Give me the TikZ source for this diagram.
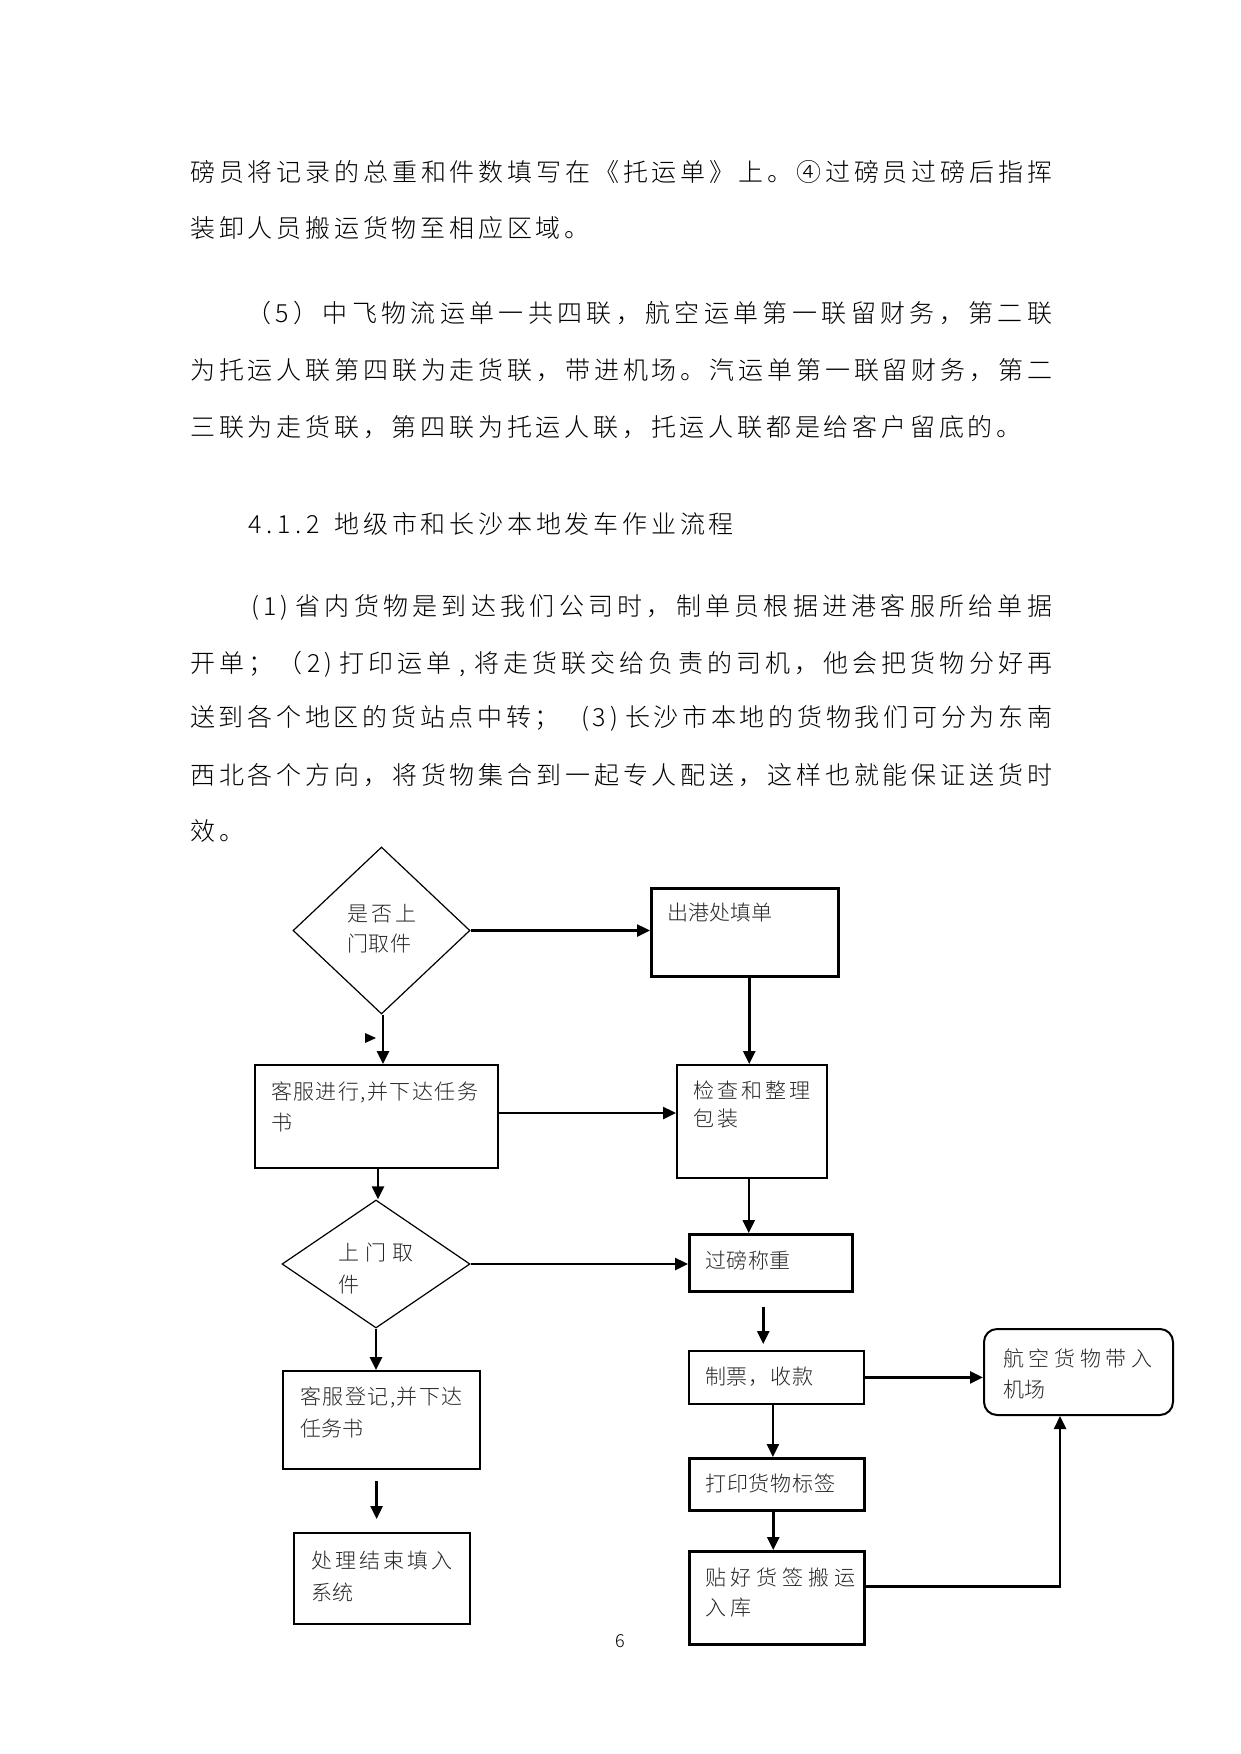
\documentclass[tikz,border=0pt]{standalone}
\usepackage{fontspec}
\IfFontExistsTF{Noto Sans CJK SC Light}{\setmainfont{Noto Sans CJK SC Light}}{\setmainfont{Noto Sans CJK SC}}
\usetikzlibrary{arrows.meta,shapes.geometric}
\newdimen\mytrkdim
\newdimen\myhcell
\myhcell=14.4pt
\def\mytrk#1#2{\mytrkdim=#1\relax\mytrkA#2\relax}
\def\mytrkA#1{\ifx\relax#1\unkern\else#1\kern\mytrkdim\relax\expandafter\mytrkA\fi}
\def\myspr#1#2{\hbox to #1{\mysprA#2\relax}}
\def\mysprA#1{\ifx\relax#1\unskip\else#1\hfil\expandafter\mysprA\fi}
\def\myhw#1{\myhwA#1\relax}
\def\myhwA#1{\ifx\relax#1\else\hbox to \myhcell{\hss#1\hss}\expandafter\myhwA\fi}
\begin{document}
\begin{tikzpicture}[x=1pt,y=-1pt,
  body/.style={font=\fontsize{25pt}{30pt}\selectfont, inner sep=0pt, anchor=west},
  ft/.style={font=\fontsize{21pt}{25pt}\selectfont, inner sep=0pt, anchor=west, text=black!85},
  flowbox/.style={draw, rectangle, inner sep=0pt, anchor=north west},
  dia/.style={draw, diamond, inner sep=0pt, line width=1.2pt},
  arr/.style={line width=2.5pt, -{Triangle[length=13pt,width=12pt]}},
]
\fill[white] (0,0) rectangle (1241,1754);
\useasboundingbox (0,0) rectangle (1241,1754);

% body text
\node[body] (l1) at (190,172) {\myspr{862pt}{磅员将记录的总重和件数填写在《托运单》上。④过磅员过磅后指挥}};
\node[body] (l2) at (190,228) {\mytrk{3.8pt}{装卸人员搬运货物至相应区域。}};
\node[body] (l3) at (246,313) {\myspr{806pt}{（5）中飞物流运单一共四联，航空运单第一联留财务，第二联}};
\node[body] (l4) at (190,370) {\myspr{862pt}{为托运人联第四联为走货联，带进机场。汽运单第一联留财务，第二}};
\node[body] (l5) at (190,427) {\mytrk{3.8pt}{三联为走货联，第四联为托运人联，托运人联都是给客户留底的。}};
\node[body] (hd) at (248,524) {\myhw{4.1.2~}\mytrk{3.8pt}{地级市和长沙本地发车作业流程}};
\node[body] (p1) at (248,607) {\myspr{804pt}{{\myhw{(1)}}省内货物是到达我们公司时，制单员根据进港客服所给单据}};
\node[body] (p2) at (190,664) {\myspr{862pt}{开单；（{\myhw{2)}}打印运单{\myhw{,}}将走货联交给负责的司机，他会把货物分好再}};
\node[body] (p3) at (190,718) {\myspr{862pt}{送到各个地区的货站点中转；{\myhw{~(3)}}长沙市本地的货物我们可分为东南}};
\node[body] (p4) at (190,775) {\myspr{862pt}{西北各个方向，将货物集合到一起专人配送，这样也就能保证送货时}};
\node[body] (p5) at (190,831) {\mytrk{3.8pt}{效。}};

% shapes
\node[dia, minimum width=177pt, minimum height=167pt] (d1) at (381.5,930.5) {};
\node[flowbox, line width=2.5pt, minimum width=187pt, minimum height=88pt] (b1) at (650,887) {};
\node[flowbox, line width=2pt, minimum width=243pt, minimum height=103pt] (kf) at (254,1064) {};
\node[flowbox, line width=1.5pt, minimum width=150pt, minimum height=113pt] (jc) at (676,1064) {};
\node[dia, minimum width=188pt, minimum height=128pt] (d2) at (376,1264) {};
\node[flowbox, line width=2.5pt, minimum width=163pt, minimum height=57pt] (gb) at (688,1233) {};
\node[flowbox, line width=1.8pt, minimum width=175pt, minimum height=53pt] (zp) at (688,1350) {};
\node[flowbox, line width=2.5pt, minimum width=175pt, minimum height=52pt] (dy) at (688,1457) {};
\node[flowbox, line width=2.5pt, minimum width=175pt, minimum height=93pt] (tb) at (688,1550) {};
\node[flowbox, line width=2pt, rounded corners=13pt, minimum width=189pt, minimum height=86pt] (hk) at (983,1328) {};
\node[flowbox, line width=2.2pt, minimum width=197pt, minimum height=98pt] (dj) at (282,1370) {};
\node[flowbox, line width=2pt, minimum width=176pt, minimum height=91pt] (cl) at (293,1532) {};

% flow texts
\node[ft] (d1a) at (347,914) {\mytrk{3pt}{是否上}};
\node[ft] (d1b) at (347,944) {\mytrk{0.5pt}{门取件}};
\node[ft] (b1a) at (667,913) {出港处填单};
\node[ft] (kfa) at (271,1093) {\mytrk{1.4pt}{客服进行,并下达任务}};
\node[ft] (kfb) at (271,1123) {书};
\node[ft] (jca) at (693,1090) {\mytrk{3pt}{检查和整理}};
\node[ft] (jcb) at (693,1118) {\mytrk{3pt}{包装}};
\node[ft] (d2a) at (338,1253) {\mytrk{6pt}{上门取}};
\node[ft] (d2b) at (338,1285) {件};
\node[ft] (gba) at (705,1260) {\mytrk{0.5pt}{过磅称重}};
\node[ft] (zpa) at (705,1377) {\mytrk{0.7pt}{制票，收款}};
\node[ft] (dya) at (705,1483) {\mytrk{0.8pt}{打印货物标签}};
\node[ft] (tba) at (705,1577) {\mytrk{4.8pt}{贴好货签搬运}};
\node[ft] (tbb) at (705,1608) {\mytrk{4.8pt}{入库}};
\node[ft] (hka) at (1003,1358) {\mytrk{4.6pt}{航空货物带入}};
\node[ft] (hkb) at (1003,1390) {机场};
\node[ft] (dja) at (300,1397) {\mytrk{1.5pt}{客服登记,并下达}};
\node[ft] (djb) at (300,1428) {任务书};
\node[ft] (cla) at (311,1560) {\mytrk{3pt}{处理结束填入}};
\node[ft] (clb) at (311,1592) {系统};
\node[font=\fontsize{18pt}{20pt}\selectfont, inner sep=0pt] (pg) at (620,1641) {6};

% free ends of the detached arrows
\coordinate (g0) at ([xshift=-7.5pt,yshift=-14pt]gb.south);
\coordinate (g1a) at (g0 |- zp.north);
\coordinate (g1) at ([yshift=6pt]g1a);
\coordinate (c0) at ([xshift=-5pt,yshift=-11pt]dj.south);
\coordinate (c1a) at (c0 |- cl.north);
\coordinate (c1) at ([yshift=13pt]c1a);
\coordinate (tbo) at ([yshift=11.5pt]tb.east);
\coordinate (hki) at ([xshift=-18.5pt]hk.south);

% connectors
\draw[arr] (d1.east) -- (d1.east -| b1.west);
\draw[arr] ([xshift=1.5pt]d1.south) -- ([xshift=1.5pt]d1.south |- kf.north);
\draw[arr] ([xshift=4.5pt]b1.south) -- ([xshift=4.5pt]b1.south |- jc.north);
\draw[arr] ([yshift=3.5pt]kf.east) -- ([yshift=3.5pt]kf.east -| jc.west);
\draw[arr] ([xshift=1.5pt]kf.south) -- ([xshift=1.5pt]kf.south |- d2.north);
\draw[arr] (d2.east) -- (d2.east -| gb.west);
\draw[arr] ([xshift=-3pt]jc.south) -- ([xshift=-3pt]jc.south |- gb.north);
\draw[arr] (g0) -- (g1);
\draw[arr] (zp.east) -- (zp.east -| hk.west);
\draw[arr] ([xshift=-3.5pt]zp.south) -- ([xshift=-3.5pt]zp.south |- dy.north);
\draw[arr] ([xshift=-3.5pt]dy.south) -- ([xshift=-3.5pt]dy.south |- tb.north);
\draw[arr] (tbo) -| (hki);
\draw[arr] (d2.south) -- (d2.south |- dj.north);
\draw[arr] (c0) -- (c1);
\fill (365,1033) -- (376,1038) -- (365,1043) -- cycle;
\end{tikzpicture}
\end{document}
